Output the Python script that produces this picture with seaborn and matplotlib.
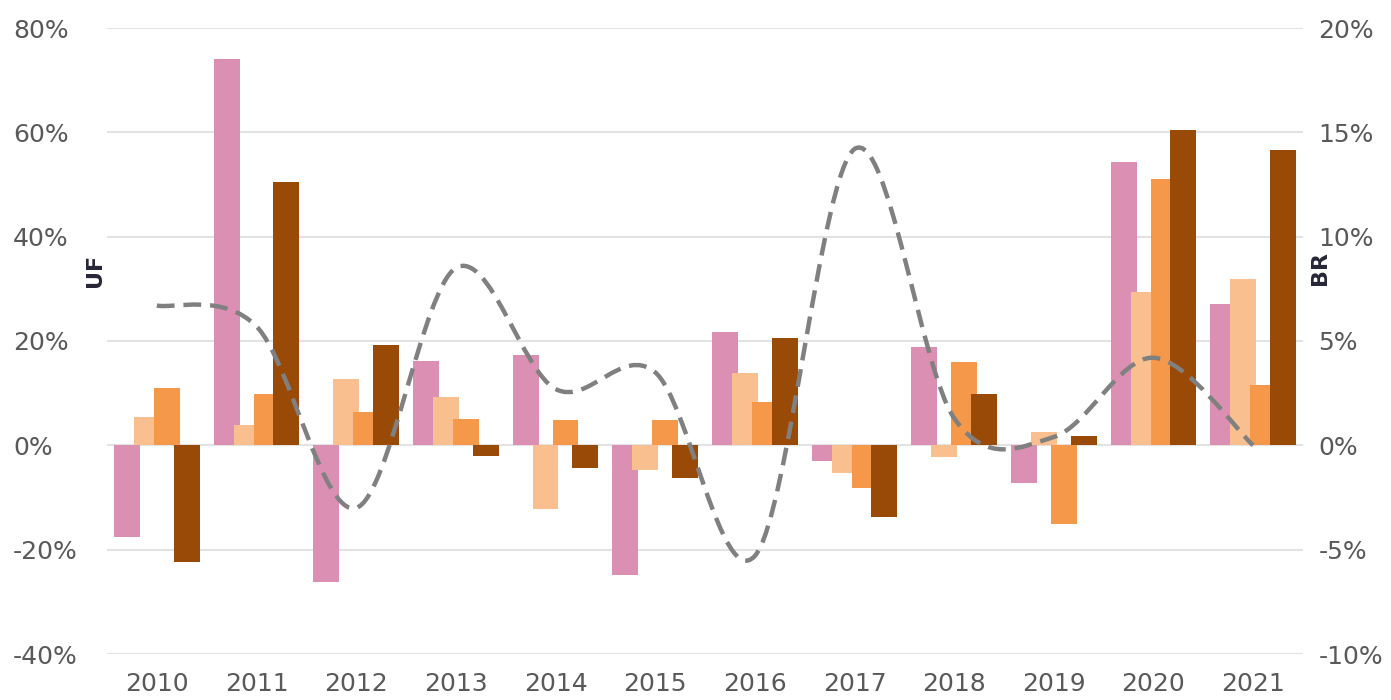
import numpy as np
import pandas as pd
import matplotlib
matplotlib.use('Agg')
import matplotlib.pyplot as plt
from matplotlib.path import Path
from matplotlib.patches import PathPatch
import seaborn as sns

# dados
anos = ['2010', '2011', '2012', '2013', '2014', '2015',
        '2016', '2017', '2018', '2019', '2020', '2021']
serie_1 = [-17.5, 74.0, -26.2, 16.1, 17.3, -24.8, 21.8, -3.0, 18.8, -7.3, 54.3, 27.0]
serie_2 = [5.4, 3.9, 12.8, 9.3, -12.3, -4.8, 13.9, -5.3, -2.2, 2.5, 29.3, 31.8]
serie_3 = [11.0, 9.8, 6.4, 5.0, 4.9, 4.8, 8.4, -8.1, 16.0, -15.1, 51.0, 11.5]
serie_4 = [-22.3, 50.5, 19.2, -2.1, -4.3, -6.2, 20.6, -13.7, 9.9, 1.7, 60.4, 56.6]
br = [6.7, 5.7, -3.0, 8.5, 2.7, 3.5, -5.3, 14.2, 1.3, 0.4, 4.2, 0.0]

nomes = ['S1', 'S2', 'S3', 'S4']
cores = ['#DB8FB3', '#F9BF8E', '#F59849', '#994A07']

df = pd.DataFrame({
    'Ano': anos * 4,
    'Serie': np.repeat(nomes, len(anos)),
    'Valor': serie_1 + serie_2 + serie_3 + serie_4,
})

sns.set_style('white')
plt.rcParams['font.family'] = ['DejaVu Sans']

fig, ax = plt.subplots(figsize=(13.91, 7), dpi=100)
fig.subplots_adjust(left=107/1391, right=1303/1391, top=1-28/700, bottom=1-654/700)

sns.barplot(data=df, x='Ano', y='Valor', hue='Serie', palette=cores,
            width=0.8, saturation=1, ax=ax, legend=False)

# barras sobrepostas como no Excel
for p in ax.patches:
    c = p.get_x() + p.get_width() / 2
    w = p.get_width() * 1.3
    p.set_x(c - w / 2)
    p.set_width(w)
    p.set_linewidth(0)

ax.set_xlim(-0.5, 11.5)
ax.set_ylim(-40, 80)
ax.set_yticks(range(-40, 81, 20))
ax.set_yticklabels([f'{v}%' for v in range(-40, 81, 20)])
for t in ax.get_yticklabels():
    t.set_horizontalalignment('left')
ax.tick_params(axis='y', length=0, pad=67.7, labelsize=18, labelcolor='#595959')
ax.tick_params(axis='x', length=0, pad=13, labelsize=18, labelcolor='#595959')
ax.set_xlabel('')
ax.set_ylabel('')
ax.yaxis.grid(True, color='#E3E3E3', lw=1.5)
ax.set_axisbelow(True)
sns.despine(ax=ax, left=True, bottom=True)

ax2 = ax.twinx()
ax2.set_ylim(-10, 20)
ax2.set_yticks(range(-10, 21, 5))
ax2.set_yticklabels([f'{v}%' for v in range(-10, 21, 5)])
ax2.tick_params(axis='y', length=0, pad=11, labelsize=18, labelcolor='#595959')
for s in ax2.spines.values():
    s.set_visible(False)

# linha suavizada (bezier tipo Excel)
xs = np.arange(len(br), dtype=float)
ys = np.array(br, dtype=float)
pts = np.column_stack([xs, ys])
ext = np.vstack([pts[0], pts, pts[-1]])
verts = [tuple(pts[0])]
codes = [Path.MOVETO]
for i in range(len(pts) - 1):
    p0, p1, p2, p3 = ext[i], ext[i + 1], ext[i + 2], ext[i + 3]
    c1 = p1 + (p2 - p0) / 6
    c2 = p2 - (p3 - p1) / 6
    verts += [tuple(c1), tuple(c2), tuple(p2)]
    codes += [Path.CURVE4] * 3
curva = PathPatch(Path(verts, codes), facecolor='none', edgecolor='#808080',
                  lw=3.2, linestyle=(0, (4, 2)), capstyle='butt')
ax2.add_patch(curva)

fig.text(95/1391, 1-270/700, 'UF', rotation=90, ha='center', va='center',
         fontsize=16, fontweight='bold', color='#262637')
fig.text(1320/1391, 1-268/700, 'BR', rotation=90, ha='center', va='center',
         fontsize=16, fontweight='bold', color='#262637')

fig.savefig('out.png', dpi=100)
